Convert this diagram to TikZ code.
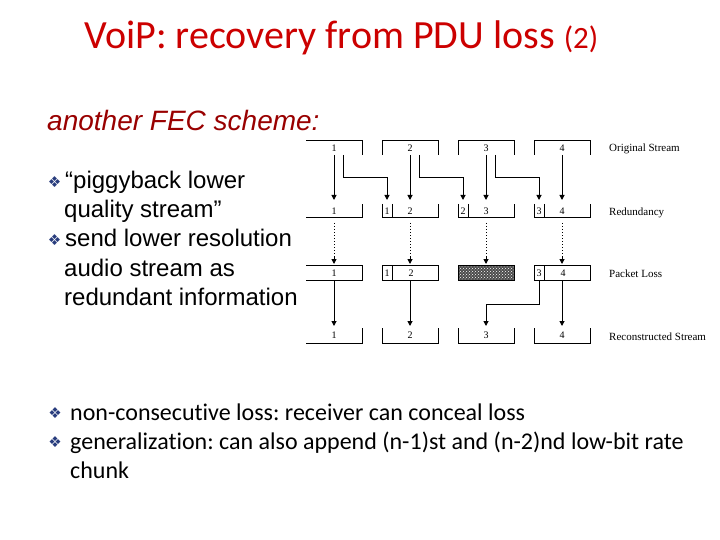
\documentclass[tikz,border=0pt]{standalone}
\usepackage{fontspec}
\setmainfont{Carlito}[Ligatures={NoCommon}]
\newfontfamily\arialf{Liberation Sans}
\newfontfamily\timesf{Liberation Serif}
\newfontfamily\symf{DejaVu Sans}
\usetikzlibrary{arrows.meta,patterns}
\definecolor{titlered}{RGB}{204,0,0}
\definecolor{subred}{RGB}{153,0,0}
\definecolor{bulblue}{RGB}{40,60,125}
\frenchspacing
\tikzset{
  ln/.style={line width=1pt},
  arr/.style={line width=1pt,-{Triangle[length=5pt,width=5pt]}},
  num/.style={font=\timesf\fontsize{10}{10}\selectfont, inner sep=0pt},
  lbl/.style={font=\timesf\fontsize{11}{11}\selectfont, anchor=base west, inner sep=0pt},
  bul/.style={font=\symf\fontsize{15}{15}\selectfont, text=bulblue, inner sep=0pt},
  lefttext/.style={font=\arialf\fontsize{24}{24}\selectfont, anchor=base west, inner sep=0pt},
  bottext/.style={font=\fontsize{24}{24}\selectfont, anchor=base west, inner sep=0pt},
}
\begin{document}
\begin{tikzpicture}[x=1pt,y=-1pt]
\useasboundingbox[fill=white] (0,0) rectangle (720,540);
% title
\node[anchor=base west, inner sep=0pt, text=titlered, font=\fontsize{40}{40}\selectfont] (title) at (84,49) {VoiP: recovery from PDU loss {\fontsize{31}{31}\selectfont(2)}};
\node[anchor=base west, inner sep=0pt, text=subred, font=\arialf\itshape\fontsize{28}{28}\selectfont] (sub) at (47,131) {another FEC scheme:};
% left bullets
\node[bul] (b1) at (54.5,182) {❖};
\node[lefttext] (t1) at (65,189) {“piggyback lower};
\node[lefttext] (t2) at (64,218) {quality stream”};
\node[bul] (b2) at (54.5,240) {❖};
\node[lefttext] (t3) at (65,247) {send lower resolution};
\node[lefttext] (t4) at (64,276) {audio stream as};
\node[lefttext] (t5) at (64,305) {redundant information};
% bottom bullets
\node[bul] (b3) at (55,413) {❖};
\node[bottext] (u1) at (70,420) {non-consecutive loss: receiver can conceal loss};
\node[bul] (b4) at (55,442) {❖};
\node[bottext] (u2) at (70,449) {generalization: can also append (n-1)st and (n-2)nd low-bit rate};
\node[bottext] (u3) at (70,478) {chunk};
% row labels
\node[lbl] (l1) at (609,152) {Original Stream};
\node[lbl] (l2) at (609,215) {Redundancy};
\node[lbl] (l3) at (609,277) {Packet Loss};
\node[lbl] (l4) at (609,340) {Reconstructed Stream};
% coordinates
\foreach \i in {1,2,3,4}{
  \pgfmathsetmacro{\L}{306+76*(\i-1)}
  \pgfmathsetmacro{\C}{\L+28}
  \pgfmathsetmacro{\R}{\L+56}
  \pgfmathsetmacro{\S}{\L+5}
  \pgfmathsetmacro{\D}{\C+9}
  \coordinate (os\i) at (\C,155);
  \coordinate (ot\i) at (\C,200);
  \coordinate (rs\i) at (\D,155);
  \coordinate (rm\i) at (\D,178);
  \coordinate (st\i) at (\S,200);
  \coordinate (sm\i) at (\S,178);
  \coordinate (ds\i) at (\C,223);
  \coordinate (de\i) at (\C,256);
  \coordinate (dt\i) at (\C,264);
  \coordinate (ls\i) at (\C,280);
  \coordinate (lt\i) at (\C,326);
  \coordinate (lb\i) at (\S,280);
  % row 1 bracket
  \ifnum\i=1
    \draw[ln] (\L,141) -- (\R,141) -- (\R,155);
  \else
    \draw[ln] (\L,155) -- (\L,141) -- (\R,141) -- (\R,155);
  \fi
  \node[num] (a\i) at (\C,148) {\i};
  % row 2 bracket
  \ifnum\i=1
    \draw[ln] (\L,218) -- (\R,218) -- (\R,204);
  \else
    \draw[ln] (\L,204) -- (\L,218) -- (\R,218) -- (\R,204);
    \draw[ln] (\L+10,204) -- (\L+10,218);
  \fi
  \node[num] (b\i) at (\C,211) {\i};
  % row 4 bracket
  \ifnum\i=1
    \draw[ln] (\L,343) -- (\R,343) -- (\R,328);
  \else
    \draw[ln] (\L,328) -- (\L,343) -- (\R,343) -- (\R,328);
  \fi
  \node[num] (d\i) at (\C,335) {\i};
  % dotted
  \draw[ln,dotted] (ds\i) -- (de\i);
  \draw[arr] (de\i) -- (dt\i);
}
% small redundancy numbers in row 2
\node[num] (s2) at (387,211) {1};
\node[num] (s3) at (463,211) {2};
\node[num] (s4) at (539,211) {3};
% row 3 packet loss
\draw[ln] (306,265) -- (362,265) -- (362,280) -- (306,280);
\node[num] (c1) at (334,273) {1};
\draw[ln] (382,265) rectangle (438,280);
\draw[ln] (392,265) -- (392,280);
\node[num] (cs2) at (387,273) {1};
\node[num] (c2) at (411,273) {2};
\fill[black!70] (458,265) rectangle (514,280);
\fill[pattern=crosshatch dots, pattern color=white] (458,265) rectangle (514,280);
\draw[line width=0.6pt] (458,265) rectangle (514,280);
\draw[ln] (534,265) rectangle (590,280);
\draw[ln] (544,265) -- (544,280);
\node[num] (cs4) at (539,273) {3};
\node[num] (c4) at (563,273) {4};
% arrows row1 -> row2
\foreach \i in {1,2,3,4}{\draw[arr] (os\i) -- (ot\i);}
\draw[arr] (rs1) -- (rm1) -- (sm2) -- (st2);
\draw[arr] (rs2) -- (rm2) -- (sm3) -- (st3);
\draw[arr] (rs3) -- (rm3) -- (sm4) -- (st4);
% arrows row3 -> row4
\draw[arr] (ls1) -- (lt1);
\draw[arr] (ls2) -- (lt2);
\draw[arr] (ls4) -- (lt4);
\coordinate (rk) at (539,304);
\coordinate (rj) at (486,304);
\draw[arr] (lb4) -- (rk) -- (rj) -- (lt3);
\end{tikzpicture}
\end{document}
